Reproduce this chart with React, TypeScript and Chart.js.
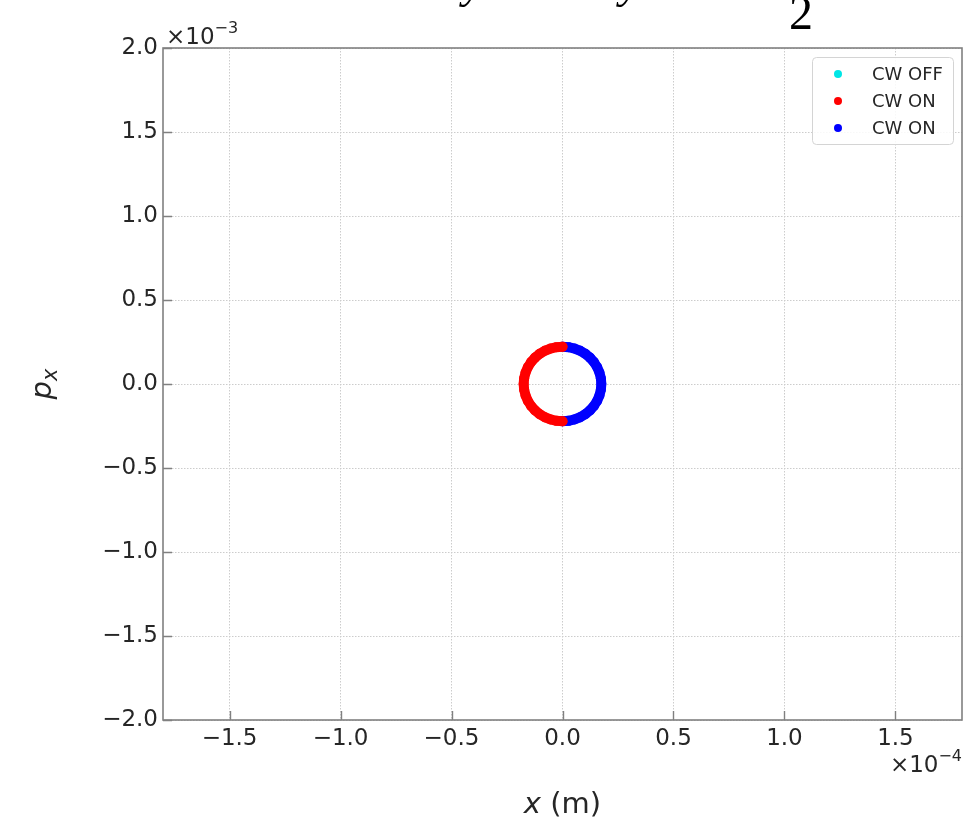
import { useEffect, useRef } from "react";
import { Chart, registerables } from "chart.js";

Chart.register(...registerables);

// ---- data ----
const xTicks = [-1.5e-4, -1.0e-4, -0.5e-4, 0, 0.5e-4, 1.0e-4, 1.5e-4];
const pTicks = [-2.0e-3, -1.5e-3, -1.0e-3, -0.5e-3, 0, 0.5e-3, 1.0e-3, 1.5e-3, 2.0e-3];
const xMin = -1.8e-4;
const xMax = 1.8e-4;
const pMin = -2.0e-3;
const pMax = 2.0e-3;

const seriesLabels = ["CW OFF", "CW ON", "CW ON"];
const seriesColors = ["#00e6e6", "#ff0000", "#0000ff"];

const cwOffX: number[] = [];
const cwOffP: number[] = [];

const cwOnRedX = [0, -2.74e-6, -5.41e-6, -7.95e-6, -1.029e-5, -1.237e-5, -1.416e-5, -1.559e-5, -1.664e-5, -1.728e-5, -1.75e-5, -1.728e-5, -1.664e-5, -1.559e-5, -1.416e-5, -1.237e-5, -1.029e-5, -7.95e-6, -5.41e-6, -2.74e-6, 0];
const cwOnRedP = [-2.22e-4, -2.193e-4, -2.111e-4, -1.978e-4, -1.796e-4, -1.57e-4, -1.305e-4, -1.008e-4, -0.686e-4, -0.347e-4, 0, 0.347e-4, 0.686e-4, 1.008e-4, 1.305e-4, 1.57e-4, 1.796e-4, 1.978e-4, 2.111e-4, 2.193e-4, 2.22e-4];

const cwOnBlueX = [0, 2.74e-6, 5.41e-6, 7.95e-6, 1.029e-5, 1.237e-5, 1.416e-5, 1.559e-5, 1.664e-5, 1.728e-5, 1.75e-5, 1.728e-5, 1.664e-5, 1.559e-5, 1.416e-5, 1.237e-5, 1.029e-5, 7.95e-6, 5.41e-6, 2.74e-6, 0];
const cwOnBlueP = [2.22e-4, 2.193e-4, 2.111e-4, 1.978e-4, 1.796e-4, 1.57e-4, 1.305e-4, 1.008e-4, 0.686e-4, 0.347e-4, 0, -0.347e-4, -0.686e-4, -1.008e-4, -1.305e-4, -1.57e-4, -1.796e-4, -1.978e-4, -2.111e-4, -2.193e-4, -2.22e-4];

const X_FACTOR = 1e-4;
const P_FACTOR = 1e-3;

const TEXT = "#262626";
const FRAME = "#808080";
const SANS = "'DejaVu Sans', sans-serif";
const SERIF = "'Liberation Serif', 'DejaVu Serif', serif";

const fmt = (v: number, f: number) => (v / f).toFixed(1).replace("-", "\u2212");

const toPts = (xs: number[], ps: number[]) => xs.map((x, i) => ({ x, y: ps[i] }));

const overlay = {
  id: "overlay",
  afterDraw(chart: any) {
    const { ctx, chartArea } = chart;
    const { left, right, top, bottom } = chartArea;
    const xs = chart.scales.x;
    const ys = chart.scales.y;
    ctx.save();

    // frame
    ctx.strokeStyle = FRAME;
    ctx.lineWidth = 1.6;
    ctx.setLineDash([]);
    ctx.strokeRect(left, top, right - left, bottom - top);

    // inward ticks
    ctx.beginPath();
    xTicks.forEach((v) => {
      const px = Math.round(xs.getPixelForValue(v)) + 0.5;
      ctx.moveTo(px, bottom);
      ctx.lineTo(px, bottom - 9);
    });
    pTicks.forEach((v) => {
      const py = Math.round(ys.getPixelForValue(v)) + 0.5;
      ctx.moveTo(left, py);
      ctx.lineTo(left + 9, py);
    });
    ctx.lineWidth = 1.4;
    ctx.stroke();

    // offset texts
    ctx.fillStyle = TEXT;
    ctx.textBaseline = "alphabetic";
    ctx.textAlign = "left";
    ctx.font = `23px ${SANS}`;
    ctx.fillText("\u00d710", left + 3, top - 4);
    let w = ctx.measureText("\u00d710").width;
    ctx.font = `16px ${SANS}`;
    ctx.fillText("\u22123", left + 3 + w, top - 15);

    ctx.font = `16px ${SANS}`;
    const sup4 = "\u22124";
    const s4w = ctx.measureText(sup4).width;
    ctx.fillText(sup4, right - s4w, bottom + 41);
    ctx.font = `23px ${SANS}`;
    w = ctx.measureText("\u00d710").width;
    ctx.fillText("\u00d710", right - s4w - w, bottom + 52);

    // x axis title: x (m)
    const TF = 29;
    ctx.font = `italic ${TF}px ${SANS}`;
    const xw = ctx.measureText("x").width;
    ctx.font = `${TF}px ${SANS}`;
    const rw = ctx.measureText(" (m)").width;
    const cx = (left + right) / 2;
    const startX = cx - (xw + rw) / 2;
    ctx.font = `italic ${TF}px ${SANS}`;
    ctx.fillText("x", startX, 813);
    ctx.font = `${TF}px ${SANS}`;
    ctx.fillText(" (m)", startX + xw, 813);

    // y axis title: p_x
    ctx.save();
    ctx.translate(51, (top + bottom) / 2);
    ctx.rotate(-Math.PI / 2);
    ctx.font = `italic ${TF}px ${SANS}`;
    const pw = ctx.measureText("p").width;
    ctx.font = `italic 21px ${SANS}`;
    const sw = ctx.measureText("x").width;
    ctx.font = `italic ${TF}px ${SANS}`;
    ctx.fillText("p", -(pw + sw) / 2, 0);
    ctx.font = `italic 21px ${SANS}`;
    ctx.fillText("x", -(pw + sw) / 2 + pw, 6);
    ctx.restore();

    // legend inside plot
    const lx = 812.5, ly = 57.5, lw = 141, lh = 87;
    ctx.beginPath();
    const r = 4;
    ctx.moveTo(lx + r, ly);
    ctx.lineTo(lx + lw - r, ly);
    ctx.quadraticCurveTo(lx + lw, ly, lx + lw, ly + r);
    ctx.lineTo(lx + lw, ly + lh - r);
    ctx.quadraticCurveTo(lx + lw, ly + lh, lx + lw - r, ly + lh);
    ctx.lineTo(lx + r, ly + lh);
    ctx.quadraticCurveTo(lx, ly + lh, lx, ly + lh - r);
    ctx.lineTo(lx, ly + r);
    ctx.quadraticCurveTo(lx, ly, lx + r, ly);
    ctx.closePath();
    ctx.fillStyle = "rgba(255,255,255,0.85)";
    ctx.fill();
    ctx.strokeStyle = "#d4d4d4";
    ctx.lineWidth = 1;
    ctx.stroke();
    ctx.font = `18px ${SANS}`;
    ctx.textBaseline = "middle";
    chart.data.datasets.forEach((ds: any, i: number) => {
      const yy = 74 + i * 27;
      ctx.beginPath();
      ctx.arc(838, yy, 4, 0, Math.PI * 2);
      ctx.fillStyle = ds.backgroundColor;
      ctx.fill();
      ctx.fillStyle = TEXT;
      ctx.fillText(ds.label, 872, yy + 1);
    });

    // clipped formula remnants above the chart
    ctx.fillStyle = "#000";
    ctx.textBaseline = "alphabetic";
    ctx.font = `italic 46px ${SERIF}`;
    ctx.fillText("y", 463, -3);
    ctx.fillText("y", 620, -3);
    ctx.font = `48px ${SERIF}`;
    ctx.fillText("2", 789, 29);

    ctx.restore();
  },
};

export default function App() {
  const ref = useRef<HTMLCanvasElement | null>(null);
  useEffect(() => {
    if (!ref.current) return;
    Chart.defaults.font.family = SANS;
    const mk = (i: number, data: { x: number; y: number }[]) => ({
      label: seriesLabels[i],
      data,
      backgroundColor: seriesColors[i],
      borderColor: seriesColors[i],
      pointRadius: 5,
      pointBorderWidth: 0,
      showLine: true,
      borderWidth: 10,
      borderCapStyle: "round",
      borderJoinStyle: "round",
    });
    const chart = new Chart(ref.current, {
      type: "scatter",
      data: {
        datasets: [
          mk(0, toPts(cwOffX, cwOffP)),
          mk(1, toPts(cwOnRedX, cwOnRedP)),
          mk(2, toPts(cwOnBlueX, cwOnBlueP)),
        ] as any,
      },
      options: {
        animation: false,
        responsive: true,
        maintainAspectRatio: false,
        layout: { padding: { left: 0, top: 48, right: 11, bottom: 0 } },
        plugins: { legend: { display: false }, tooltip: { enabled: false } },
        scales: {
          x: {
            type: "linear",
            min: xMin,
            max: xMax,
            afterBuildTicks: (s: any) => {
              s.ticks = xTicks.map((v) => ({ value: v }));
            },
            afterFit: (s: any) => {
              s.height = 117;
            },
            ticks: {
              callback: (v: any) => fmt(Number(v), X_FACTOR),
              color: TEXT,
              font: { size: 23, family: SANS },
              padding: 5,
              maxRotation: 0,
              autoSkip: false,
            },
            grid: { color: "#cccccc", lineWidth: 1, drawTicks: false },
            border: { display: false, dash: [1.5, 1.5] },
          },
          y: {
            type: "linear",
            min: pMin,
            max: pMax,
            afterBuildTicks: (s: any) => {
              s.ticks = pTicks.map((v) => ({ value: v }));
            },
            afterFit: (s: any) => {
              s.width = 163;
            },
            ticks: {
              callback: (v: any) => fmt(Number(v), P_FACTOR),
              color: TEXT,
              font: { size: 23, family: SANS },
              padding: 5,
              autoSkip: false,
            },
            grid: { color: "#cccccc", lineWidth: 1, drawTicks: false },
            border: { display: false, dash: [1.5, 1.5] },
          },
        },
      },
      plugins: [overlay],
    });
    return () => chart.destroy();
  }, []);
  return (
    <div style={{ position: "fixed", left: 0, top: 0, width: 973, height: 837, background: "#fff" }}>
      <canvas ref={ref} />
    </div>
  );
}
